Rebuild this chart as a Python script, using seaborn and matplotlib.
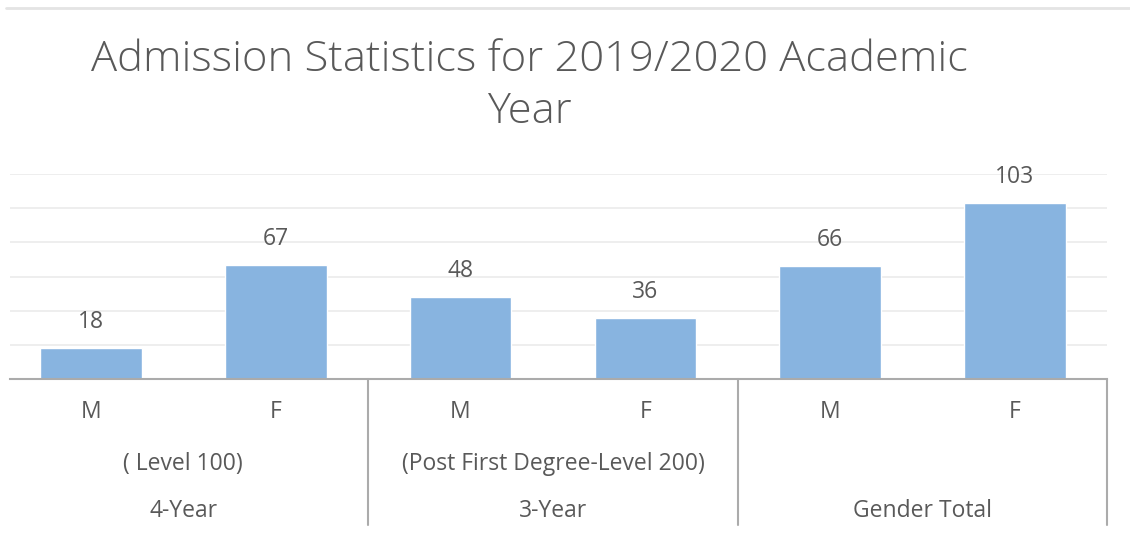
import matplotlib
matplotlib.use("Agg")
import matplotlib.pyplot as plt
import seaborn as sns
import pandas as pd
from matplotlib.lines import Line2D

# Admission figures by programme and gender
genders = ["M", "F", "M", "F", "M", "F"]
programmes = ["4-Year", "3-Year", "Gender Total"]
levels = ["( Level 100)", "(Post First Degree-Level 200)", ""]
admitted = [18, 67, 48, 36, 66, 103]
title_lines = ["Admission Statistics for 2019/2020 Academic", "Year"]

slots = [f"{programmes[i // 2]} {g}" for i, g in enumerate(genders)]
df = pd.DataFrame({"slot": slots, "admitted": admitted})

sns.set_theme(style="white")
plt.rcParams["font.family"] = ["Open Sans", "DejaVu Sans"]

TEXT = "#595959"
BAR = "#88B4E0"
GRID = "#EBEBEB"
AXIS = "#ABABAB"
W, H = 1130, 539

fig = plt.figure(figsize=(W / 100, H / 100), dpi=100)
ax = fig.add_axes([0.00885, 0.2968, 0.9708, 0.3803])

sns.barplot(data=df, x="slot", y="admitted", order=slots, color=BAR,
            width=0.55, saturation=1, ax=ax)

ax.set_xlim(-0.438, 5.498)
ax.set_ylim(0, 120)
ax.set_yticks(range(20, 121, 20))
ax.yaxis.grid(True, color=GRID, linewidth=1.2)
ax.set_axisbelow(True)
ax.tick_params(left=False, labelleft=False, bottom=False, labelbottom=False)
ax.set_xlabel("")
ax.set_ylabel("")
for side in ["top", "left", "right"]:
    ax.spines[side].set_visible(False)
ax.spines["bottom"].set_color(AXIS)
ax.spines["bottom"].set_linewidth(1.5)

# value labels above each bar
for i, v in enumerate(admitted):
    ax.annotate(f"{v}", (i, v), xytext=(0, 10), textcoords="offset points",
                ha="center", va="bottom", fontsize=16.5, color=TEXT)

# multi-level category axis
LBL = 16.5
xt = ax.get_xaxis_transform()
for i, g in enumerate(genders):
    ax.text(i, -0.16, g, transform=xt, ha="center", va="center",
            fontsize=LBL, color=TEXT)
for j, (prog, lev) in enumerate(zip(programmes, levels)):
    cx = 2 * j + 0.5
    if lev:
        ax.text(cx, -0.415, lev, transform=xt, ha="center", va="center",
                fontsize=LBL, color=TEXT)
    ax.text(cx, -0.644, prog, transform=xt, ha="center", va="center",
            fontsize=LBL, color=TEXT)

for sx in [1.5, 3.5, 5.498]:
    ax.add_line(Line2D([sx, sx], [0, -0.712], transform=xt, color=AXIS,
                       linewidth=1.5, clip_on=False))

# two-line chart title
for line, ypx in zip(title_lines, [60, 112]):
    fig.text(529 / W, 1 - ypx / H, line, ha="center", va="center",
             fontsize=31.3, color=TEXT, fontweight="light")

# chart border at the top
fig.add_artist(Line2D([0.005, 1.0], [0.985, 0.985], transform=fig.transFigure,
                      color="#E4E4E4", linewidth=2))

fig.savefig("out.png", dpi=100, facecolor="white")
